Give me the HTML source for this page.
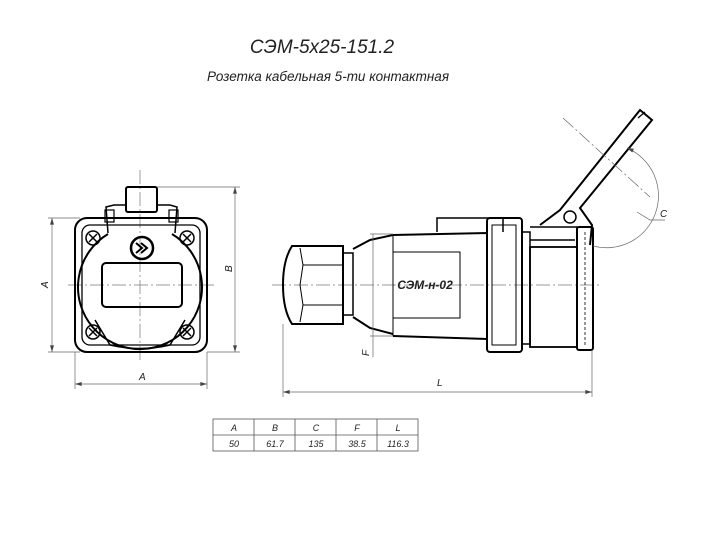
<!DOCTYPE html>
<html><head><meta charset="utf-8"><style>
html,body{margin:0;padding:0;background:#fff;}
svg{display:block;font-family:"Liberation Sans",sans-serif;}
.t{font-style:italic;fill:#222;}
</style></head><body>
<svg width="715" height="533" viewBox="0 0 715 533" xmlns="http://www.w3.org/2000/svg">
<defs>
 <marker id="a" viewBox="0 0 10 6" refX="10" refY="3" markerWidth="8" markerHeight="4" orient="auto-start-reverse" markerUnits="userSpaceOnUse">
  <path d="M0 0 L10 3 L0 6 Z" fill="#444"/>
 </marker>
</defs>
<text x="322" y="53" text-anchor="middle" class="t" font-size="19" fill="#333">СЭМ-5х25-151.2</text>
<text x="328" y="81" text-anchor="middle" class="t" font-size="13.5" fill="#333">Розетка кабельная 5-ти контактная</text>

<!-- FRONT VIEW -->
<g fill="none" stroke="#000">
 <g stroke="#777" stroke-width="0.7" stroke-dasharray="14,3,2,3">
  <line x1="140" y1="170" x2="140" y2="360"/>
  <line x1="68" y1="285" x2="216" y2="285"/>
 </g>
 <rect x="75" y="218" width="132" height="134" rx="12" stroke-width="2"/>
 <rect x="82" y="225" width="118" height="120" rx="8" stroke-width="1.3"/>
 <path d="M108 234 A62 62 0 1 0 172 234" stroke-width="2"/>
 <path d="M95 320 L110 345 Q140 352 170 345 L185 320" stroke-width="1.5"/>
 <rect x="102" y="263" width="80" height="44" rx="4" stroke-width="2"/>
 <circle cx="142" cy="248" r="11" stroke-width="2.5"/>
 <path d="M136 243 L142 248 L136 253 M141 243 L147 248 L141 253" stroke-width="2"/>
 <g stroke-width="1.5">
  <circle cx="93" cy="238" r="7"/><circle cx="187" cy="238" r="7"/>
  <circle cx="93" cy="332" r="7"/><circle cx="187" cy="332" r="7"/>
  <path d="M89 234 L97 242 M97 234 L89 242 M183 234 L191 242 M191 234 L183 242 M89 328 L97 336 M97 328 L89 336 M183 328 L191 336 M191 328 L183 336"/>
 </g>
 <rect x="126" y="187" width="31" height="25" rx="2" stroke-width="2"/>
 <path d="M108 233 L106 207 L114 205 L126 205 M157 205 L170 205 L177 207 L175 233" stroke-width="1.5"/>
 <rect x="105" y="210" width="9" height="12" stroke-width="1.2"/>
 <rect x="169" y="210" width="9" height="12" stroke-width="1.2"/>
 <g stroke="#666" stroke-width="0.7">
  <line x1="52" y1="218" x2="52" y2="352" marker-start="url(#a)" marker-end="url(#a)"/><line x1="48" y1="218" x2="80" y2="218"/><line x1="48" y1="352" x2="80" y2="352"/>
  <line x1="235" y1="187" x2="235" y2="352" marker-start="url(#a)" marker-end="url(#a)"/><line x1="157" y1="187" x2="240" y2="187"/><line x1="207" y1="352" x2="240" y2="352"/>
  <line x1="75" y1="384" x2="207" y2="384" marker-start="url(#a)" marker-end="url(#a)"/><line x1="75" y1="352" x2="75" y2="389"/><line x1="207" y1="352" x2="207" y2="389"/>
 </g>
</g>
<text class="t" font-size="10" transform="translate(48,288) rotate(-90)">A</text>
<text class="t" font-size="10" transform="translate(232,272) rotate(-90)">B</text>
<text x="139" y="380" class="t" font-size="10">A</text>

<!-- SIDE VIEW -->
<g fill="none" stroke="#000">
 <line x1="272" y1="285" x2="600" y2="285" stroke="#777" stroke-width="0.7" stroke-dasharray="14,3,2,3"/>
 <path d="M343 246 L292 246 Q283 260 283 285 Q283 310 292 324 L343 324 Z" stroke-width="2"/>
 <path d="M300 248 L303 265 L300 285 L303 305 L300 322 M303 265 L343 265 M303 305 L343 305" stroke-width="1"/>
 <rect x="343" y="253" width="10" height="62" stroke-width="1.5"/>
 <path d="M353 249 L370 240 L393 235 M353 317 L370 328 L393 334" stroke-width="2"/>
 <path d="M393 235 L487 233 L487 339 L393 336" stroke-width="2"/>
 <path d="M393 235 L393 336 M393 252 L460 252 L460 318 L393 318" stroke-width="1"/>
 <path d="M437 232 L437 218 L503 218 L503 232" stroke-width="1.5"/>
 <rect x="487" y="218" width="35" height="134" rx="3" stroke-width="2"/>
 <rect x="492" y="225" width="24" height="120" stroke-width="1"/>
 <rect x="522" y="232" width="8" height="112" stroke-width="1.5"/>
 <rect x="530" y="247" width="47" height="100" stroke-width="1.8"/>
 <path d="M530 227 L577 227 L577 247 M530 240 L575 240" stroke-width="1.5"/>
 <rect x="577" y="227" width="16" height="123" rx="2" stroke-width="2"/>
 <path d="M585 232 L585 345" stroke-width="0.8" stroke-dasharray="3,2"/>
 <path d="M540 225 L560 210 L640 110 L652 120 L580 208 L592 225 L590 245" stroke-width="2"/>
 <path d="M638 118 L645 112" stroke-width="1.2"/>
 <circle cx="570" cy="217" r="6" stroke-width="1.5"/>
 <g stroke="#666" stroke-width="0.7">
  <line x1="563" y1="118" x2="650" y2="197" stroke-dasharray="14,3,2,3"/>
  <path d="M627 148 A52 52 0 0 1 593 246" marker-start="url(#a)"/>
  <path d="M637 212 L650 220 L665 220"/>
  <line x1="373" y1="234" x2="373" y2="357"/><line x1="370" y1="234" x2="393" y2="234"/><line x1="370" y1="336" x2="393" y2="336"/>
  <line x1="283" y1="392" x2="592" y2="392" marker-start="url(#a)" marker-end="url(#a)"/><line x1="283" y1="324" x2="283" y2="397"/><line x1="592" y1="350" x2="592" y2="397"/>
 </g>
</g>
<text x="425" y="289" text-anchor="middle" class="t" font-size="12" font-weight="bold">СЭМ-н-02</text>
<text x="660" y="217" class="t" font-size="10">C</text>
<text class="t" font-size="10" transform="translate(369,356) rotate(-90)">F</text>
<text x="437" y="386" class="t" font-size="10">L</text>

<!-- TABLE -->
<g stroke="#555" stroke-width="0.8" fill="none">
 <rect x="213" y="419" width="205" height="32"/>
 <line x1="213" y1="435" x2="418" y2="435"/>
 <line x1="254" y1="419" x2="254" y2="451"/><line x1="295" y1="419" x2="295" y2="451"/>
 <line x1="336" y1="419" x2="336" y2="451"/><line x1="377" y1="419" x2="377" y2="451"/>
</g>
<g class="t" font-size="9" text-anchor="middle">
 <text x="234" y="431">A</text><text x="275" y="431">B</text><text x="316" y="431">C</text><text x="357" y="431">F</text><text x="398" y="431">L</text>
 <text x="234" y="447">50</text><text x="275" y="447">61.7</text><text x="316" y="447">135</text><text x="357" y="447">38.5</text><text x="398" y="447">116.3</text>
</g>
</svg>
</body></html>
